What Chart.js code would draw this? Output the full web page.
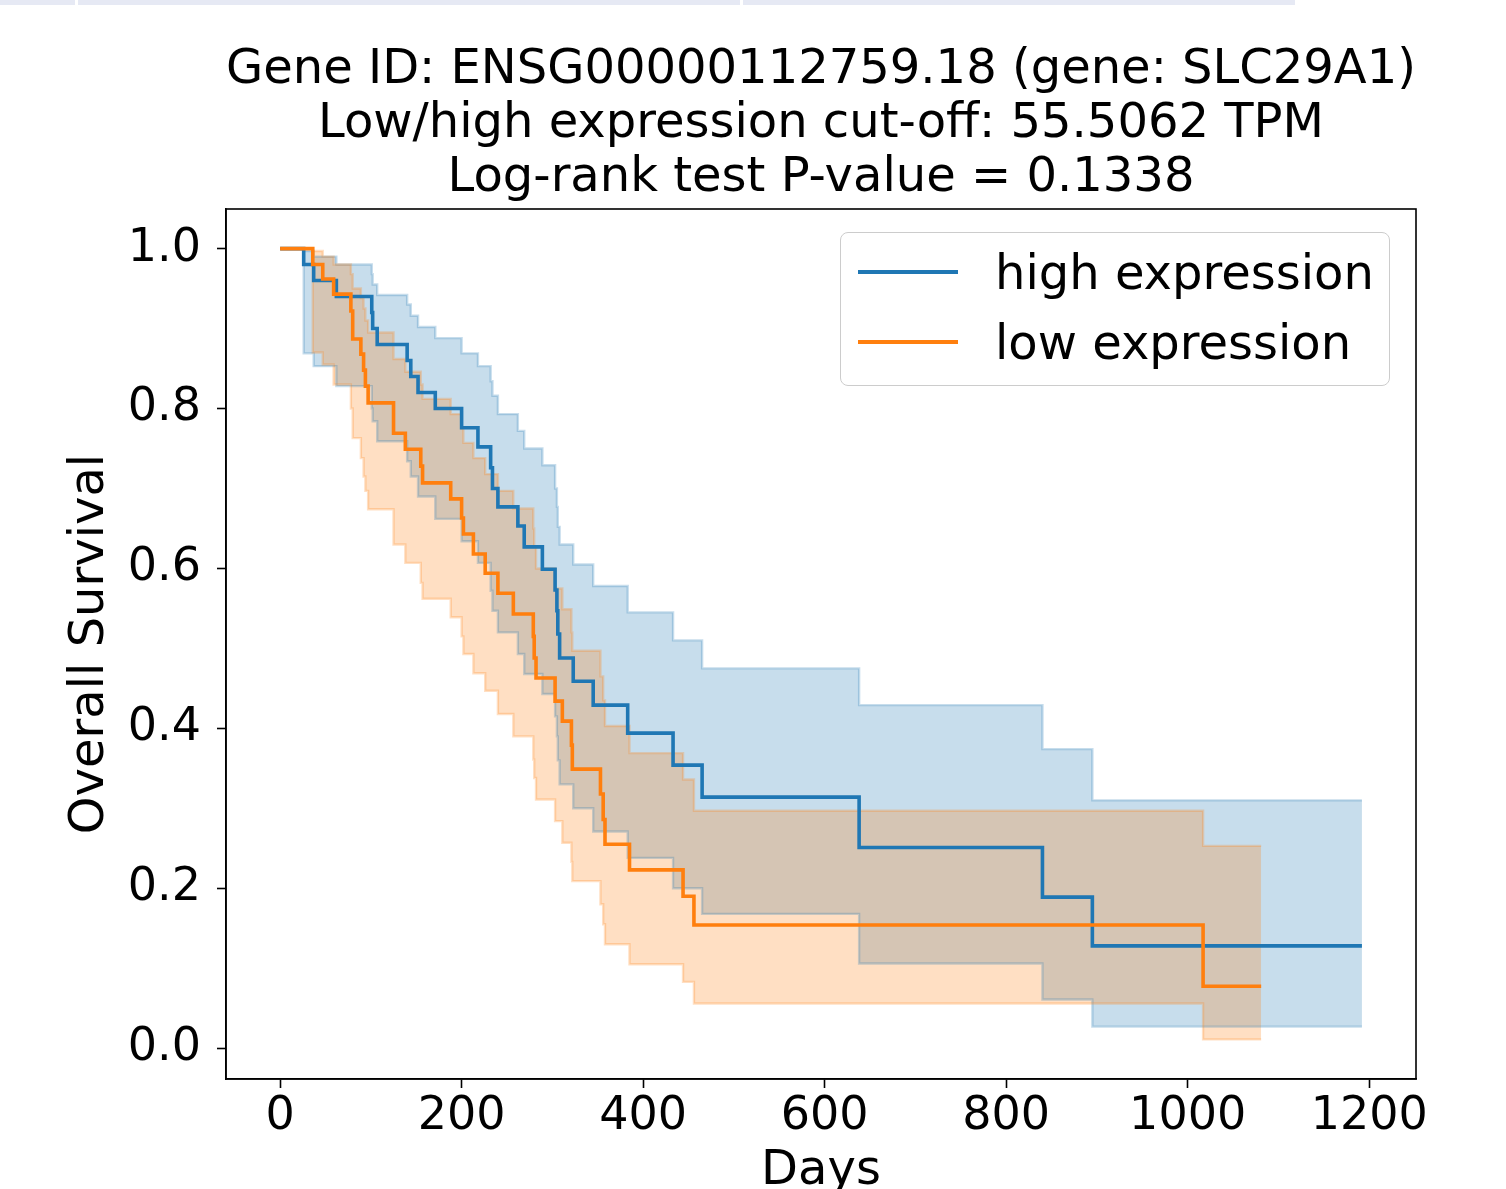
<!DOCTYPE html>
<html>
<head>
<meta charset="utf-8">
<script src="https://cdn.jsdelivr.net/npm/chart.js@4.4.1/dist/chart.umd.min.js"></script>
<style>
  body { margin: 0; background: #fff; overflow: hidden; width: 1506px; height: 1189px; }
  #wrap { position: absolute; left: 0; top: 0; width: 1506px; height: 1230px; }
  .strip { position: absolute; top: 0; height: 5px; background: #e6e9f4; }
  #legend { position: absolute; left: 840px; top: 232px; width: 548px; height: 152px;
            border: 1.5px solid #cccccc; border-radius: 8px; background: rgba(255,255,255,0.8);
            font-family: "DejaVu Sans"; font-size: 48px; color: #000; }
  .swatch { position: absolute; left: 17px; width: 100px; height: 3.6px; }
  .label { position: absolute; left: 154px; height: 56px; line-height: 56px; white-space: nowrap; }
</style>
</head>
<body>
<div class="strip" style="left:0;width:75px"></div>
<div class="strip" style="left:78px;width:662px"></div>
<div class="strip" style="left:743px;width:552px"></div>
<div id="wrap"><canvas id="km" width="1506" height="1230"></canvas></div>
<div id="legend">
  <div class="swatch" style="top:37px;background:#1f77b4"></div>
  <div class="label" style="top:11px">high expression</div>
  <div class="swatch" style="top:107px;background:#ff7f0e"></div>
  <div class="label" style="top:81px">low expression</div>
</div>
<script>
const xTicks = [0, 200, 400, 600, 800, 1000, 1200];
const yTicks = [0, 0.2, 0.4, 0.6, 0.8, 1.0];

// high expression group (days, survival, 95% CI)
const highDays  = [0, 26, 37, 62, 101, 102, 107, 140, 144, 152, 171, 200, 218, 232, 234, 240, 262, 269, 289, 303,
                   305, 306, 308, 323, 345, 383, 433, 465, 638, 840, 895, 1192];
const highSurv  = [1, 0.98, 0.96, 0.94, 0.92, 0.90, 0.88, 0.86, 0.84, 0.82, 0.80, 0.776, 0.752, 0.726, 0.70, 0.677,
                   0.653, 0.627, 0.599, 0.573, 0.547, 0.518, 0.488, 0.459, 0.429, 0.394, 0.354, 0.314, 0.251, 0.189, 0.128, 0.128];
const highLower = [1, 0.869, 0.853, 0.828, 0.800, 0.784, 0.759, 0.734, 0.715, 0.690, 0.662, 0.634, 0.607, 0.572, 0.547,
                   0.520, 0.493, 0.468, 0.443, 0.415, 0.390, 0.360, 0.330, 0.300, 0.271, 0.238, 0.200, 0.168, 0.106, 0.061, 0.027, 0.027];
const highUpper = [1, 0.997, 0.990, 0.980, 0.968, 0.955, 0.942, 0.930, 0.916, 0.902, 0.888, 0.869, 0.853, 0.834, 0.816,
                   0.793, 0.772, 0.750, 0.729, 0.700, 0.677, 0.652, 0.630, 0.605, 0.578, 0.545, 0.510, 0.475, 0.429, 0.374, 0.310, 0.310];

// low expression group
const lowDays  = [0, 36, 47, 59, 78, 80, 89, 92, 94, 97, 125, 138, 155, 157, 188, 200, 202, 213, 226, 240,
                  257, 279, 280, 282, 303, 311, 321, 322, 353, 356, 358, 385, 444, 456, 1017, 1081];
const lowSurv  = [1, 0.98, 0.962, 0.943, 0.922, 0.887, 0.868, 0.848, 0.828, 0.807, 0.769, 0.749, 0.728, 0.707, 0.687,
                  0.663, 0.643, 0.618, 0.594, 0.569, 0.543, 0.515, 0.488, 0.463, 0.434, 0.409, 0.379, 0.349, 0.318,
                  0.286, 0.255, 0.223, 0.19, 0.154, 0.0775, 0.0775];
const lowLower = [1, 0.870, 0.855, 0.830, 0.800, 0.763, 0.738, 0.715, 0.697, 0.674, 0.630, 0.607, 0.582, 0.562, 0.539,
                  0.515, 0.493, 0.469, 0.447, 0.418, 0.390, 0.361, 0.338, 0.311, 0.284, 0.257, 0.233, 0.209, 0.180,
                  0.155, 0.130, 0.105, 0.083, 0.056, 0.011, 0.011];
const lowUpper = [1, 0.997, 0.990, 0.980, 0.968, 0.950, 0.938, 0.925, 0.910, 0.895, 0.862, 0.846, 0.830, 0.812, 0.793,
                  0.775, 0.757, 0.738, 0.718, 0.697, 0.675, 0.650, 0.627, 0.600, 0.575, 0.549, 0.520, 0.497, 0.465,
                  0.435, 0.403, 0.369, 0.336, 0.297, 0.253, 0.253];

const titleLines = ["Gene ID: ENSG00000112759.18 (gene: SLC29A1)",
                    "Low/high expression cut-off: 55.5062 TPM",
                    "Log-rank test P-value = 0.1338"];

const BLUE = '#1f77b4', ORANGE = '#ff7f0e';
const FONT = 'DejaVu Sans';

function pts(days, vals) {
    return days.map((d, i) => ({ x: d, y: vals[i] }));
}

function band(days, vals, rgb, fill) {
    return {
        data: pts(days, vals),
        stepped: 'before',
        borderColor: 'rgba(' + rgb + ',0.25)',
        borderWidth: 2.4,
        backgroundColor: 'rgba(' + rgb + ',0.25)',
        pointRadius: 0,
        fill: fill,
        order: 2
    };
}

const frame = {
    id: 'frame',
    afterDraw(chart) {
        const a = chart.chartArea, c = chart.ctx;
        c.save();
        c.strokeStyle = '#000';
        c.lineWidth = 1.6;
        c.strokeRect(a.left, a.top, a.right - a.left, a.bottom - a.top);
        c.restore();
    }
};

new Chart(document.getElementById('km').getContext('2d'), {
    type: 'line',
    data: {
        datasets: [
            { label: 'high expression', data: pts(highDays, highSurv), stepped: 'before',
              borderColor: BLUE, borderWidth: 3.6, pointRadius: 0, fill: false, order: 1 },
            { label: 'low expression', data: pts(lowDays, lowSurv), stepped: 'before',
              borderColor: ORANGE, borderWidth: 3.6, pointRadius: 0, fill: false, order: 0 },
            // fills are painted last-to-first, so the orange band sits on top of the blue one
            band(lowDays, lowUpper, '255,127,14', '+1'),
            band(lowDays, lowLower, '255,127,14', false),
            band(highDays, highUpper, '31,119,180', '+1'),
            band(highDays, highLower, '31,119,180', false)
        ]
    },
    options: {
        responsive: false,
        animation: false,
        devicePixelRatio: 1,
        layout: { padding: { left: 0, right: 90, top: 0, bottom: 0 } },
        plugins: {
            legend: { display: false },
            tooltip: { enabled: false },
            filler: { drawTime: 'beforeDatasetsDraw' },
            title: {
                display: true,
                fullSize: false,
                text: titleLines,
                color: '#000',
                font: { family: FONT, size: 48, weight: 'normal', lineHeight: '54px' },
                padding: { top: 44, bottom: 3 }
            }
        },
        scales: {
            x: {
                type: 'linear',
                min: -59.6,
                max: 1251.6,
                afterFit(s) { s.height = 151; },
                afterBuildTicks(s) { s.ticks = xTicks.map(v => ({ value: v })); },
                grid: { display: true, drawOnChartArea: false, drawTicks: true, tickLength: 9, tickWidth: 1.6, tickColor: '#000' },
                border: { display: true, color: '#000', width: 1.6 },
                ticks: { color: '#000', padding: 1, maxRotation: 0, font: { family: FONT, size: 46, lineHeight: 1.2 },
                         callback: v => String(v) },
                title: { display: true, text: 'Days', color: '#000', font: { family: FONT, size: 48, lineHeight: 1.2 },
                         padding: { top: 0, bottom: 30 } }
            },
            y: {
                type: 'linear',
                min: -0.0385,
                max: 1.0495,
                afterFit(s) { s.width = 226; },
                afterBuildTicks(s) { s.ticks = yTicks.map(v => ({ value: v })); },
                grid: { display: true, drawOnChartArea: false, drawTicks: true, tickLength: 9, tickWidth: 1.6, tickColor: '#000' },
                border: { display: true, color: '#000', width: 1.6 },
                ticks: { color: '#000', padding: 16, font: { family: FONT, size: 46 },
                         callback: v => v.toFixed(1) },
                title: { display: true, text: 'Overall Survival', color: '#000', font: { family: FONT, size: 48, lineHeight: 1.2 },
                         padding: { top: 62, bottom: 0 } }
            }
        }
    },
    plugins: [frame]
});
</script>
</body>
</html>
